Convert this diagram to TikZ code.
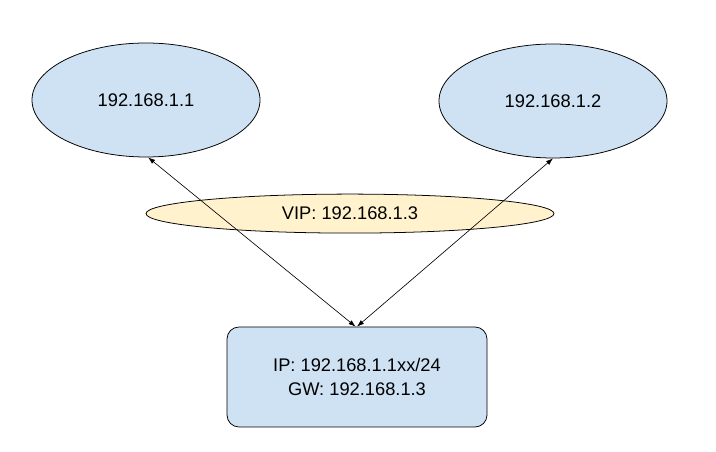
\documentclass[tikz,border=0pt]{standalone}
\usepackage{fontspec}
\setmainfont{Liberation Sans}
\usetikzlibrary{shapes.geometric,arrows.meta}
\definecolor{hostblue}{HTML}{CFE2F3}
\definecolor{vipyellow}{HTML}{FFF2CC}
\begin{document}
\begin{tikzpicture}[line width=0.55pt,
  host/.style={ellipse, draw, fill=hostblue, minimum width=5.7cm, minimum height=2.85cm, inner sep=0pt, font=\fontsize{13}{16}\selectfont},
  vipnode/.style={ellipse, draw, fill=vipyellow, minimum width=10.2cm, minimum height=0.975cm, inner sep=0pt, font=\fontsize{13}{16}\selectfont},
  clientbox/.style={rectangle, rounded corners=0.3cm, draw, fill=hostblue, minimum width=6.5cm, minimum height=2.5cm, align=center, font=\fontsize{13}{16.5}\selectfont},
  link/.style={line width=0.45pt, {Latex[length=5pt,width=3.5pt]}-{Latex[length=5pt,width=3.5pt]}}]
  \useasboundingbox (0.000,0.000) rectangle (17.900,-11.300);
  \node[host] (srvone) at (3.650,-2.500) {192.168.1.1};
  \node[host] (srvtwo) at (13.825,-2.525) {192.168.1.2};
  \node[vipnode] (vip) at (8.750,-5.340) {VIP: 192.168.1.3};
  \node[clientbox] (client) at (8.925,-9.425) {IP: 192.168.1.1xx/24\\GW: 192.168.1.3};
  \draw[link] ([xshift=1.5pt]srvone.south) -- ([xshift=-1pt]client.north);
  \draw[link] (srvtwo.south) -- (client.north);
\end{tikzpicture}
\end{document}
